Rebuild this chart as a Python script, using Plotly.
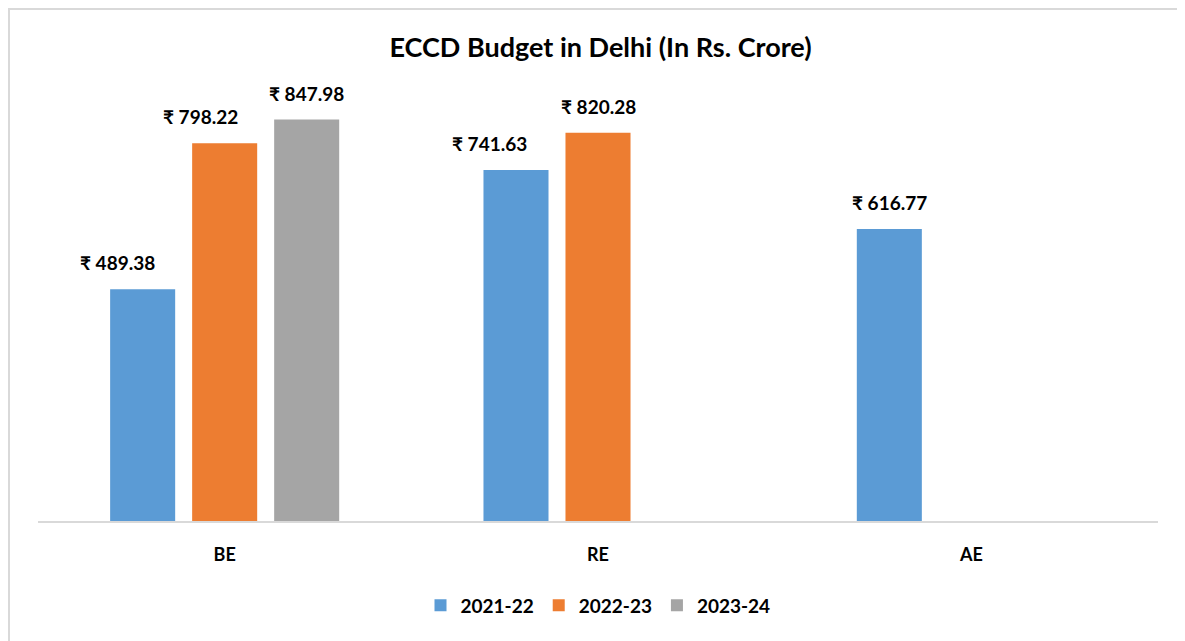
import plotly.graph_objects as go

categories = ["BE", "RE", "AE"]
years = ["2021-22", "2022-23", "2023-24"]
values_2021 = [489.38, 741.63, 616.77]
values_2022 = [798.22, 820.28, None]
values_2023 = [847.98, None, None]

COLORS = ["#5B9BD5", "#ED7D31", "#A5A5A5"]
FONT = "Lato, 'Open Sans', sans-serif"

series = [values_2021, values_2022, values_2023]

# a few data labels were nudged left in the original chart
label_nudge = {(0, "BE"): -25, (1, "BE"): -24, (0, "RE"): -27}

fig = go.Figure()
annotations = []
slot_px = 82
for i, (yr, vals, col) in enumerate(zip(years, series, COLORS)):
    fig.add_trace(go.Bar(
        x=categories, y=vals, name=f"<b>{yr}</b>",
        marker={"color": col, "line": {"width": 0}},
        hoverinfo="x+y",
    ))
    for cat, v in zip(categories, vals):
        if v is None:
            continue
        annotations.append(dict(
            x=cat, y=v, xref="x", yref="y",
            text=f"<b>₹ {v:.2f}</b>", showarrow=False,
            yanchor="bottom", yshift=13,
            xshift=(i - 1) * slot_px + label_nudge.get((i, cat), 0),
            font={"size": 19, "color": "#000000", "family": FONT},
        ))

fig.update_layout(
    width=1185, height=641,
    paper_bgcolor="white", plot_bgcolor="white",
    font={"family": FONT, "color": "#000000", "size": 16},
    title={"text": "<b>ECCD Budget in Delhi (In Rs. Crore)</b>",
           "x": 0.5, "xanchor": "center", "y": 0.938, "yanchor": "middle",
           "font": {"size": 27, "color": "#000000", "family": FONT}},
    margin={"l": 30, "r": 35, "t": 87, "b": 128},
    barmode="group", bargap=0.341, bargroupgap=0.207,
    showlegend=True,
    legend={"orientation": "h", "x": 0.5, "xanchor": "center",
            "y": -0.198, "yanchor": "middle",
            "font": {"size": 19, "family": FONT},
            "itemwidth": 30, "traceorder": "normal"},
    xaxis={"showline": True, "linecolor": "#D9D9D9", "linewidth": 2,
           "ticks": "", "showgrid": False, "zeroline": False,
           "tickfont": {"size": 18, "family": FONT}, "ticklabelstandoff": 16},
    yaxis={"visible": False, "range": [0, 900], "showgrid": False, "zeroline": False},
    annotations=annotations,
    shapes=[dict(type="rect", xref="paper", yref="paper",
                 x0=-0.0259, x1=1.05, y0=-0.35, y1=1.2019,
                 line={"color": "#D9D9D9", "width": 2}, fillcolor="rgba(0,0,0,0)",
                 layer="below")],
)
fig.update_xaxes(tickprefix="<b>", ticksuffix="</b>")

fig.write_html("out.html")
